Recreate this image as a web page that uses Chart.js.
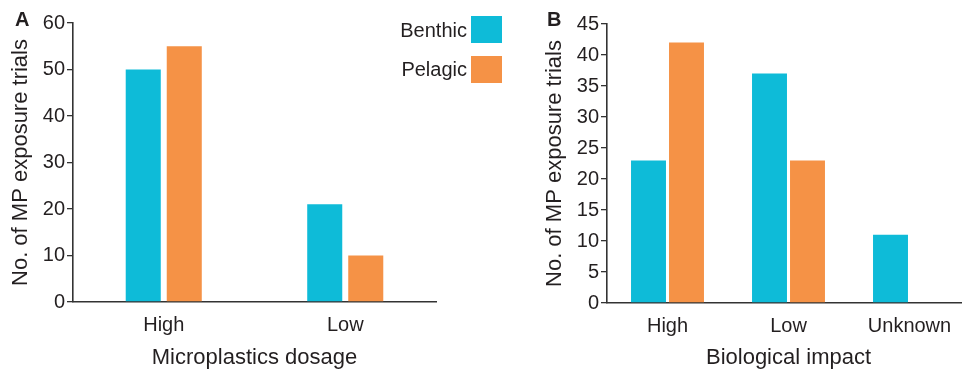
<!DOCTYPE html>
<html>
<head>
<meta charset="utf-8">
<script src="https://cdn.jsdelivr.net/npm/chart.js@4/dist/chart.umd.min.js"></script>
<style>
  html, body { margin: 0; padding: 0; background: #fff; overflow: hidden; width: 962px; height: 372px; }
  body { position: relative; font-family: "Liberation Sans", Arial, sans-serif; color: #231F20; }
  .wrap { position: absolute; top: 0; height: 372px; }
  .panel { position: absolute; font-weight: bold; font-size: 20px; line-height: 20px; }
  .leg { position: absolute; font-size: 20px; line-height: 22px; text-align: right; }
  .sw { position: absolute; width: 31px; height: 27px; }
</style>
</head>
<body>
<div class="wrap" id="wa" style="left:0;width:480px;"><canvas id="ca"></canvas></div>
<div class="wrap" id="wb" style="left:530px;width:442px;"><canvas id="cb"></canvas></div>
<div class="panel" style="left:15px;top:9px;">A</div>
<div class="panel" style="left:547px;top:9px;">B</div>
<div class="leg" id="l0" style="left:360px;width:107px;top:19px;"></div>
<div class="sw" id="s0" style="left:471px;top:16px;"></div>
<div class="leg" id="l1" style="left:360px;width:107px;top:58px;"></div>
<div class="sw" id="s1" style="left:471px;top:56px;"></div>
<script>
// ---- data ----
const seriesNames = ["Benthic", "Pelagic"];
const seriesColors = ["#0EBBD8", "#F59246"];

const dosageCategories = ["High", "Low"];
const dosageBenthic = [50, 21];
const dosagePelagic = [55, 10];
const dosageTicksMax = 60;
const dosageStep = 10;

const impactCategories = ["High", "Low", "Unknown"];
const impactBenthic = [23, 37, 11];
const impactPelagic = [42, 23, 0];
const impactTicksMax = 45;
const impactStep = 5;

const xTitleA = "Microplastics dosage";
const xTitleB = "Biological impact";
const yTitle = "No. of MP exposure trials";

// ---- legend (HTML text) ----
document.getElementById('l0').textContent = seriesNames[0];
document.getElementById('l1').textContent = seriesNames[1];
document.getElementById('s0').style.background = seriesColors[0];
document.getElementById('s1').style.background = seriesColors[1];

const FONT = "'Liberation Sans', Arial, sans-serif";
const INK = "#231F20";
const AXIS = "#333333";

function makeChart(id, w, cats, b, p, ymax, step, xTitle, cfg) {
  const cv = document.getElementById(id);
  cv.width = w; cv.height = 372;
  cv.style.width = w + 'px'; cv.style.height = '372px';
  return new Chart(cv, {
    type: 'bar',
    data: {
      labels: cats,
      datasets: [
        { label: seriesNames[0], data: b, backgroundColor: seriesColors[0], borderWidth: 0,
          categoryPercentage: cfg.cat, barPercentage: cfg.bar },
        { label: seriesNames[1], data: p, backgroundColor: seriesColors[1], borderWidth: 0,
          categoryPercentage: cfg.cat, barPercentage: cfg.bar }
      ]
    },
    options: {
      responsive: false,
      animation: false,
      devicePixelRatio: 1,
      layout: { padding: { left: 0, right: cfg.padR, top: cfg.padT, bottom: 0 } },
      plugins: { legend: { display: false }, tooltip: { enabled: false } },
      scales: {
        x: {
          grid: { display: false, drawTicks: false },
          border: { display: true, color: AXIS, width: 1.6 },
          ticks: { color: INK, font: { family: FONT, size: 20 }, padding: 11 },
          title: { display: true, text: xTitle, color: INK, font: { family: FONT, size: 22 },
                   padding: { top: 0, bottom: 1 } },
          afterFit: s => { s.height = cfg.xH; }
        },
        y: {
          min: 0, max: ymax,
          grid: { display: true, drawOnChartArea: false, drawTicks: true, tickLength: 6,
                  color: AXIS, lineWidth: 1.3 },
          border: { display: true, color: AXIS, width: 1.6 },
          ticks: { stepSize: step, color: INK, font: { family: FONT, size: 20 }, padding: 2 },
          title: { display: true, text: yTitle, color: INK, font: { family: FONT, size: 22 },
                   padding: { top: cfg.yTitlePad, bottom: 0 } },
          afterFit: s => { s.width = cfg.yW; }
        }
      }
    }
  });
}

makeChart('ca', 480, dosageCategories, dosageBenthic, dosagePelagic, dosageTicksMax, dosageStep, xTitleA,
  { cat: 0.452, bar: 0.854, padR: 44, padT: 23, xH: 70, yW: 73, yTitlePad: 8 });
makeChart('cb', 442, impactCategories, impactBenthic, impactPelagic, impactTicksMax, impactStep, xTitleB,
  { cat: 0.628, bar: 0.92, padR: 2, padT: 24, xH: 69, yW: 77, yTitlePad: 12 });
</script>
</body>
</html>
